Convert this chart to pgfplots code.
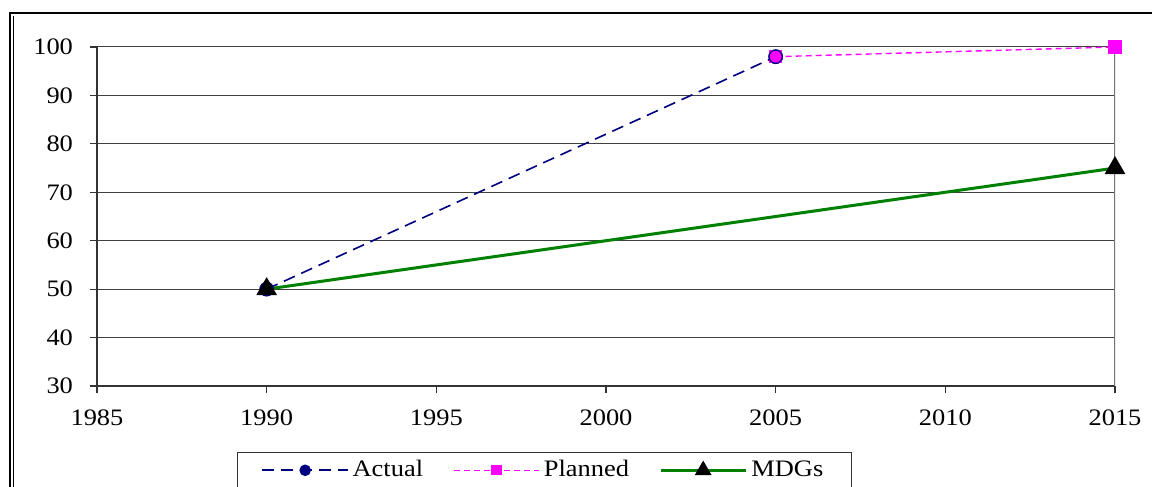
\documentclass[border=0pt]{standalone}
\usepackage{pgfplots}
\pgfplotsset{compat=1.18}
\usepackage{fontspec}
\setmainfont{Liberation Serif}[FakeStretch=1.12]
\definecolor{navy}{RGB}{0,0,128}
\definecolor{mag}{RGB}{255,0,255}
\definecolor{mdg}{RGB}{0,128,0}
\begin{document}
\begin{tikzpicture}
\path[use as bounding box] (0pt,0pt) rectangle (576pt,243.5pt);
\draw[line width=1.4pt] (5pt,-2pt) -- (5pt,237pt) -- (578pt,237pt);
\draw[line width=0.4pt] (6.8pt,-2pt) -- (6.8pt,235.5pt);
\begin{axis}[
  at={(48.5pt,50.5pt)}, anchor=south west,
  scale only axis, width=509pt, height=169.5pt,
  xmin=1985, xmax=2015, ymin=30, ymax=100,
  xtick={1985,1990,...,2015}, ytick={30,40,...,100},
  x tick label style={/pgf/number format/1000 sep={}},
  /pgf/number format/assume math mode=true,
  ymajorgrids, grid style={black!75, line width=0.5pt},
  separate axis lines,
  axis x line*=bottom, axis y line*=left,
  x axis line style={black!80, line width=0.6pt},
  y axis line style={black!80, line width=0.6pt},
  tick style={black!80, line width=0.6pt},
  tick align=outside, major tick length=3.5pt,
  ticklabel style={font=\fontsize{11.8}{14}\selectfont},
  xticklabel shift=5pt, yticklabel shift=5pt,
  legend columns=3,
  legend style={at={(0.4396,-0.1947)}, anchor=north, draw=black!80, line width=0.6pt,
    font=\fontsize{11.8}{14}\selectfont, inner xsep=12pt, inner ysep=2pt,
    /tikz/every even column/.append style={column sep=13pt}},
  legend image code/.code={\draw[mark repeat=2,mark phase=2,every mark/.append style={scale=0.75}] plot coordinates {(0cm,0cm) (0.75cm,0cm) (1.5cm,0cm)};},
]
\draw[black!55, line width=0.8pt] (axis cs:2015,30) -- (axis cs:2015,100);
\addplot[navy, line width=0.8pt, dash pattern=on 6pt off 3.5pt, mark=*, mark size=3.3pt,
  mark options={solid, fill=navy, draw=navy}] coordinates {(1990,50) (2005,98)};
\addlegendentry{Actual}
\addplot[mag, line width=0.7pt, dash pattern=on 3pt off 2pt, mark=square*, mark size=3pt,
  mark options={solid, fill=mag, draw=mag}] coordinates {(2005,98) (2015,100)};
\addlegendentry{Planned}
\addplot[mdg, line width=1.5pt, mark=triangle*, mark size=4.5pt,
  mark options={solid, fill=black, draw=black}] coordinates {(1990,50) (2015,75)};
\addlegendentry{MDGs}
\addplot[only marks, mark=*, mark size=3.3pt, mark options={fill=mag, draw=navy, line width=0.6pt}, forget plot] coordinates {(2005,98)};
\end{axis}
\end{tikzpicture}
\end{document}
